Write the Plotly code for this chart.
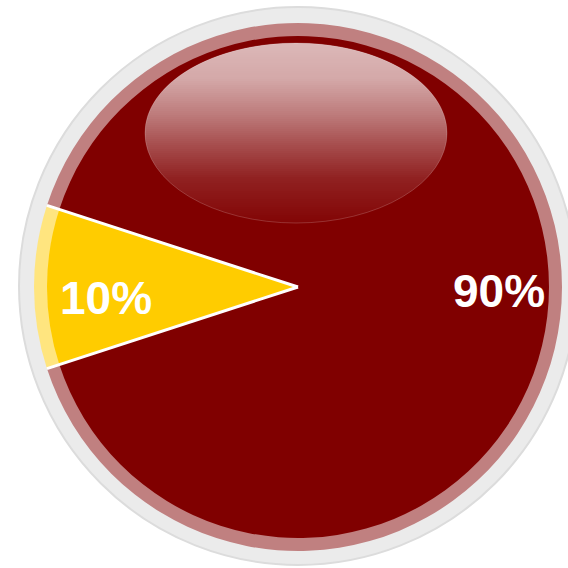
import math
import plotly.graph_objects as go

# ---- data ----
slice_labels = ["Share A", "Share B"]
slice_values = [10, 90]
slice_colors = ["#FFCC00", "#800000"]
rim_colors = ["#FFE57F", "#C08080"]

W = H = 568
CX, CY = 298, 287          # pie centre (px, from top-left)
R_PIE = 251                # main pie radius
R_RIM = 264                # translucent rim radius
R_RING = 279               # grey bezel radius
ROTATION = 252             # start angle of the first slice, clockwise from 12 o'clock


def px(x):
    return x / W


def py(y):
    return 1 - y / H


def domain(r):
    return dict(x=[px(CX - r), px(CX + r)], y=[py(CY + r), py(CY - r)])


fig = go.Figure()

# translucent-looking rim (wider pie under the main one)
fig.add_trace(go.Pie(
    labels=slice_labels, values=slice_values, sort=False,
    direction="clockwise", rotation=ROTATION,
    marker=dict(colors=rim_colors, line=dict(width=0)),
    textinfo="none", hoverinfo="skip", domain=domain(R_RIM),
))
# main pie
fig.add_trace(go.Pie(
    labels=slice_labels, values=slice_values, sort=False,
    direction="clockwise", rotation=ROTATION,
    marker=dict(colors=slice_colors, line=dict(width=0)),
    textinfo="none", hoverinfo="label+percent", domain=domain(R_PIE),
))

shapes = []
# grey bezel behind the pie
shapes.append(dict(
    type="circle", xref="paper", yref="paper", layer="below",
    x0=px(CX - R_RING), x1=px(CX + R_RING),
    y0=py(CY - 1 + R_RING), y1=py(CY - 1 - R_RING),
    fillcolor="#EBEBEB", line=dict(color="#DCDCDC", width=2),
))

# white separators along slice boundaries
total = sum(slice_values)
bounds = []
acc = 0
for v in slice_values:
    bounds.append(ROTATION + 360 * acc / total)
    acc += v


def polar(angle_deg, r):
    a = math.radians(angle_deg)
    return CX + r * math.sin(a), CY - r * math.cos(a)


for ang in bounds:
    x1, y1 = polar(ang, R_RIM)
    shapes.append(dict(
        type="line", xref="paper", yref="paper", layer="above",
        x0=px(CX), y0=py(CY), x1=px(x1), y1=py(y1),
        line=dict(color="white", width=3),
    ))

# glossy highlight: ellipse cut into thin horizontal strips of fading white
GX, GY, GRX, GRY = 296, 133, 151, 90
STRIP = 2
# white-overlay opacity from top (0) to bottom (1) of the highlight
gloss_profile = [(0.0, 0.72), (0.2, 0.66), (0.4, 0.48), (0.55, 0.32), (0.75, 0.13), (1.0, 0.02)]


def gloss_alpha(f):
    for (f0, a0), (f1, a1) in zip(gloss_profile, gloss_profile[1:]):
        if f <= f1:
            return a0 + (a1 - a0) * (f - f0) / (f1 - f0)
    return gloss_profile[-1][1]


def half_width(y):
    d = (y - GY) / GRY
    return GRX * math.sqrt(max(0.0, 1 - d * d))


def ellipse_strip(ya, yb):
    n = 6
    ys = [ya + (yb - ya) * i / n for i in range(n + 1)]
    left = [(GX - half_width(y), y) for y in ys]
    right = [(GX + half_width(y), y) for y in reversed(ys)]
    pts = left + right
    return "M " + " L ".join(f"{px(x):.6f},{py(y):.6f}" for x, y in pts) + " Z"


y_top, y_bot = GY - GRY, GY + GRY
y = y_top
while y < y_bot:
    yb = min(y + STRIP, y_bot)
    f = ((y + yb) / 2 - y_top) / (y_bot - y_top)
    shapes.append(dict(
        type="path", xref="paper", yref="paper", layer="above",
        path=ellipse_strip(y, yb),
        fillcolor=f"rgba(255,255,255,{gloss_alpha(f):.4f})", line=dict(width=0),
    ))
    y = yb
shapes.append(dict(
    type="circle", xref="paper", yref="paper", layer="above",
    x0=px(GX - GRX), x1=px(GX + GRX), y0=py(GY + GRY), y1=py(GY - GRY),
    line=dict(color="rgba(255,255,255,0.18)", width=1),
))

# percentage labels on each slice
annotations = []
label_r = [0.765, 0.80]
label_dy = [11, 4]
for i, v in enumerate(slice_values):
    mid = ROTATION + 360 * (sum(slice_values[:i]) + v / 2) / total
    lx, ly = polar(mid, R_PIE * label_r[i])
    annotations.append(dict(
        x=px(lx), y=py(ly + label_dy[i]), xref="paper", yref="paper",
        text=f"<b>{round(100 * v / total)}%</b>", showarrow=False,
        xanchor="center", yanchor="middle",
        font=dict(family="Liberation Sans, Arial, sans-serif", size=46, color="white"),
    ))

fig.update_layout(
    width=W, height=H, margin=dict(l=0, r=0, t=0, b=0),
    paper_bgcolor="white", plot_bgcolor="white",
    showlegend=False, shapes=shapes, annotations=annotations,
)

fig.write_html("out.html")
